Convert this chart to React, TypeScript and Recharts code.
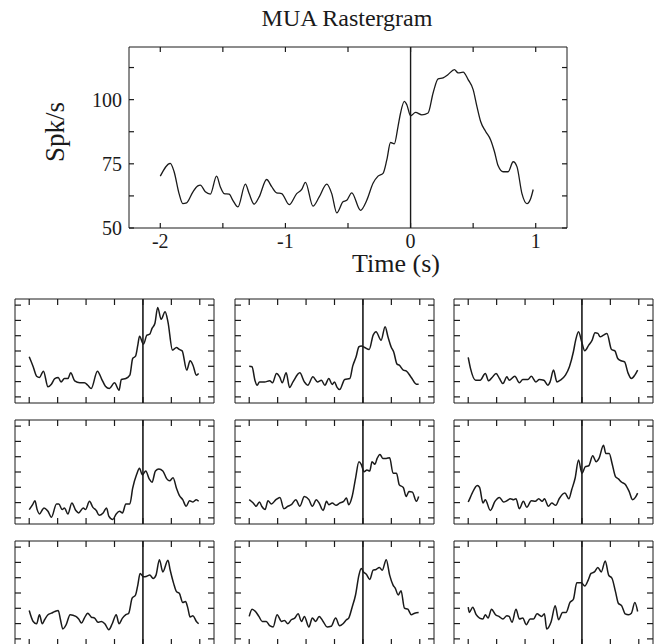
import { LineChart, Line, XAxis, YAxis, ReferenceLine } from "recharts";

// main MUA trace: [time (s), spikes/s]
const mainTrace: [number, number][] = [
  [-2.0, 70.2], [-1.92, 75.2], [-1.89, 72], [-1.85, 63.4], [-1.82, 59.5], [-1.79, 59.8],
  [-1.74, 64], [-1.7, 66.4], [-1.68, 66.7], [-1.64, 64.1], [-1.6, 63.2], [-1.55, 70.2],
  [-1.52, 66], [-1.49, 63.4], [-1.45, 63.2], [-1.42, 60.8], [-1.38, 58.2], [-1.32, 67.1],
  [-1.29, 63.4], [-1.25, 59.3], [-1.21, 62.1], [-1.15, 68.9], [-1.11, 66.1], [-1.07, 63.7],
  [-1.03, 63.4], [-0.97, 59.1], [-0.91, 63.4], [-0.87, 65], [-0.84, 67.8], [-0.78, 58.5],
  [-0.73, 62.1], [-0.67, 67.1], [-0.63, 63.4], [-0.59, 55.9], [-0.54, 60.2], [-0.51, 60.8],
  [-0.47, 63.7], [-0.4, 56.9], [-0.35, 60.8], [-0.3, 67.4], [-0.26, 70.2], [-0.22, 71.3],
  [-0.19, 76.5], [-0.16, 83.3], [-0.13, 82.8], [-0.1, 89.6], [-0.08, 94.8], [-0.05, 99.3],
  [-0.03, 98], [0, 93.7], [0.04, 95], [0.09, 94.1], [0.14, 94.8], [0.18, 102.6], [0.22, 108.1],
  [0.26, 108.5], [0.3, 109.8], [0.35, 111.7], [0.38, 110.4], [0.42, 110.7], [0.46, 107.8],
  [0.5, 103.9], [0.53, 97.4], [0.56, 91.5], [0.6, 87.6], [0.64, 84.3], [0.67, 79.8],
  [0.7, 74.2], [0.74, 71.9], [0.78, 71.9], [0.82, 75.8], [0.85, 73.9], [0.89, 63.4],
  [0.93, 59.5], [0.96, 61.5], [0.98, 65],
];

// small panels, y in tick units (0..6)
const panelA: [number, number][] = [
  [-2.0, 2.62], [-1.93, 1.97], [-1.87, 1.35], [-1.82, 1.27], [-1.75, 1.68], [-1.67, 0.66],
  [-1.61, 0.83], [-1.55, 1.2], [-1.49, 1.27], [-1.44, 0.98], [-1.38, 1.2], [-1.32, 1.2],
  [-1.27, 1.57], [-1.2, 1.05], [-1.11, 0.92], [-1.03, 0.92], [-0.97, 0.76], [-0.91, 0.55],
  [-0.8, 1.68], [-0.73, 1.2], [-0.66, 0.7], [-0.59, 0.55], [-0.5, 0.92], [-0.42, 0.44],
  [-0.38, 1.14], [-0.3, 1.2], [-0.23, 1.42], [-0.18, 2.51], [-0.13, 2.66], [-0.09, 3.38],
  [-0.06, 3.97], [0.01, 3.45], [0.07, 4.04], [0.12, 4.1], [0.16, 4.48], [0.21, 4.8],
  [0.26, 5.85], [0.32, 5.07], [0.39, 5.57], [0.44, 4.91], [0.52, 3.06], [0.59, 3.23],
  [0.64, 3.1], [0.69, 3.01], [0.77, 1.75], [0.83, 2.36], [0.88, 2.07], [0.94, 1.42], [0.98, 1.53],
];
const panelB: [number, number][] = [
  [-2.0, 2.01], [-1.95, 1.97], [-1.9, 1.09], [-1.86, 0.76], [-1.82, 0.98], [-1.73, 0.98],
  [-1.64, 1.05], [-1.59, 0.92], [-1.52, 1.53], [-1.46, 1.27], [-1.42, 0.92], [-1.35, 1.57],
  [-1.29, 0.61], [-1.23, 0.98], [-1.11, 1.57], [-1.03, 0.98], [-0.97, 0.76], [-0.88, 1.31],
  [-0.8, 0.98], [-0.73, 1.09], [-0.67, 0.76], [-0.6, 1.2], [-0.54, 0.81], [-0.5, 0.98],
  [-0.46, 0.66], [-0.41, 0.48], [-0.32, 1.14], [-0.23, 1.2], [-0.18, 2.01], [-0.12, 2.62],
  [-0.07, 3.28], [-0.03, 3.32], [0.03, 3.23], [0.11, 3.1], [0.18, 4.04], [0.23, 4.26],
  [0.32, 3.71], [0.39, 4.59], [0.44, 3.93], [0.5, 3.23], [0.54, 2.95], [0.6, 2.14],
  [0.64, 2.07], [0.71, 1.75], [0.76, 1.7], [0.85, 1.27], [0.94, 0.83], [0.98, 0.83],
];
const panelC: [number, number][] = [
  [-2.0, 2.58], [-1.96, 1.86], [-1.87, 1.09], [-1.79, 1.09], [-1.7, 1.53], [-1.64, 1.05],
  [-1.58, 1.27], [-1.51, 1.53], [-1.45, 1.2], [-1.39, 0.87], [-1.32, 1.31], [-1.28, 1.09],
  [-1.18, 1.35], [-1.1, 0.92], [-1.04, 1.14], [-0.95, 1.14], [-0.89, 1.35], [-0.81, 0.98],
  [-0.75, 1.14], [-0.67, 1.09], [-0.6, 0.76], [-0.56, 0.98], [-0.5, 1.75], [-0.44, 0.98],
  [-0.38, 1.09], [-0.29, 1.42], [-0.22, 1.97], [-0.15, 2.95], [-0.11, 3.71], [-0.06, 4.26],
  [0.0, 3.54], [0.05, 3.01], [0.12, 3.38], [0.18, 3.71], [0.23, 4.19], [0.28, 4.15],
  [0.32, 3.93], [0.38, 4.04], [0.44, 4.15], [0.52, 3.1], [0.58, 3.01], [0.63, 2.51],
  [0.69, 2.36], [0.75, 2.29], [0.81, 1.57], [0.87, 1.2], [0.93, 1.42], [0.98, 1.75],
];
const panelD: [number, number][] = [
  [-2.0, 0.54], [-1.94, 0.86], [-1.9, 1.12], [-1.86, 0.54], [-1.82, 0.26], [-1.74, 0.65],
  [-1.67, 0.43], [-1.61, 0.04], [-1.52, 0.91], [-1.48, 0.91], [-1.42, 0.54], [-1.38, 0.65],
  [-1.32, 0.26], [-1.25, 0.97], [-1.18, 0.48], [-1.13, 0.32], [-1.05, 0.65], [-1.01, 0.54],
  [-0.94, 1.08], [-0.88, 0.69], [-0.82, 0.48], [-0.77, 0.17], [-0.7, 0.32], [-0.64, 0.65],
  [-0.6, 0.11], [-0.53, -0.11], [-0.47, 0.26], [-0.41, 0.43], [-0.36, 0.32], [-0.3, 0.91],
  [-0.23, 0.91], [-0.18, 1.94], [-0.11, 2.85], [-0.06, 3.24], [-0.01, 2.81], [0.05, 3.07],
  [0.11, 2.55], [0.16, 2.33], [0.22, 3.07], [0.28, 3.2], [0.35, 3.07], [0.42, 2.55],
  [0.47, 2.42], [0.53, 2.63], [0.59, 1.94], [0.64, 1.47], [0.7, 1.19], [0.76, 0.76],
  [0.82, 1.12], [0.88, 1.04], [0.94, 1.19], [0.98, 1.08],
];
const panelE: [number, number][] = [
  [-2.0, 1.19], [-1.93, 0.97], [-1.88, 0.76], [-1.82, 1.04], [-1.78, 0.76], [-1.72, 0.54],
  [-1.67, 1.12], [-1.61, 0.91], [-1.53, 1.19], [-1.46, 1.34], [-1.39, 0.6], [-1.32, 0.76],
  [-1.26, 0.86], [-1.18, 1.19], [-1.11, 0.76], [-1.03, 1.4], [-0.95, 1.19], [-0.89, 0.76],
  [-0.82, 1.19], [-0.77, 0.97], [-0.7, 0.48], [-0.64, 1.08], [-0.6, 0.86], [-0.54, 0.97],
  [-0.47, 0.82], [-0.41, 0.97], [-0.34, 1.08], [-0.29, 1.3], [-0.25, 0.86], [-0.19, 1.4],
  [-0.13, 2.59], [-0.07, 3.67], [-0.03, 3.5], [0.02, 3.02], [0.07, 3.13], [0.12, 3.07],
  [0.16, 3.67], [0.21, 3.5], [0.25, 3.89], [0.3, 4.15], [0.35, 3.89], [0.41, 3.89],
  [0.47, 3.93], [0.53, 2.92], [0.59, 2.92], [0.64, 2.16], [0.71, 1.99], [0.76, 1.4],
  [0.81, 1.73], [0.87, 1.68], [0.94, 1.08], [0.98, 1.4],
];
const panelF: [number, number][] = [
  [-2.0, 1.04], [-1.98, 1.19], [-1.93, 1.62], [-1.84, 2.12], [-1.8, 1.99], [-1.74, 0.97],
  [-1.7, 1.19], [-1.61, 0.48], [-1.53, 1.08], [-1.45, 1.34], [-1.38, 1.04], [-1.32, 1.12],
  [-1.26, 1.25], [-1.2, 1.19], [-1.16, 1.25], [-1.1, 0.6], [-1.03, 1.08], [-0.97, 0.69],
  [-0.89, 1.12], [-0.82, 1.08], [-0.76, 1.25], [-0.7, 1.08], [-0.66, 1.25], [-0.59, 0.76],
  [-0.53, 0.97], [-0.46, 0.82], [-0.4, 1.25], [-0.3, 1.62], [-0.23, 1.25], [-0.18, 1.84],
  [-0.12, 2.59], [-0.06, 3.78], [0.0, 2.92], [0.06, 3.35], [0.12, 3.41], [0.19, 4.06],
  [0.25, 3.67], [0.3, 3.89], [0.38, 4.75], [0.42, 4.21], [0.48, 4.21], [0.53, 3.56],
  [0.59, 2.7], [0.64, 2.55], [0.7, 2.33], [0.76, 2.2], [0.83, 1.73], [0.89, 1.19],
  [0.94, 1.34], [0.98, 1.62],
];
const panelG: [number, number][] = [
  [-2.0, 1.86], [-1.93, 1.14], [-1.87, 0.99], [-1.82, 1.58], [-1.77, 0.99], [-1.73, 1.25],
  [-1.67, 1.58], [-1.61, 1.68], [-1.55, 1.79], [-1.49, 1.86], [-1.45, 1.25], [-1.41, 0.65],
  [-1.35, 0.93], [-1.28, 1.58], [-1.18, 1.47], [-1.13, 1.3], [-1.08, 1.04], [-1.03, 1.36],
  [-0.97, 1.68], [-0.91, 1.43], [-0.85, 1.36], [-0.79, 1.08], [-0.73, 1.14], [-0.67, 0.99],
  [-0.6, 0.6], [-0.54, 0.99], [-0.47, 1.58], [-0.42, 0.99], [-0.36, 1.36], [-0.3, 1.58],
  [-0.25, 1.68], [-0.19, 2.66], [-0.13, 2.87], [-0.09, 3.52], [-0.05, 4.28], [0.01, 4.06],
  [0.07, 4.1], [0.12, 4.17], [0.18, 3.95], [0.23, 4.17], [0.29, 5.18], [0.35, 4.38],
  [0.44, 5.14], [0.48, 4.49], [0.54, 3.63], [0.59, 3.09], [0.64, 2.98], [0.7, 2.38],
  [0.75, 2.44], [0.79, 2.01], [0.83, 1.43], [0.88, 1.51], [0.94, 1.14], [0.98, 0.99],
];
const panelH: [number, number][] = [
  [-2.0, 1.47], [-1.95, 1.94], [-1.89, 1.79], [-1.83, 1.47], [-1.77, 1.14], [-1.7, 1.14],
  [-1.64, 0.86], [-1.58, 0.78], [-1.51, 1.58], [-1.43, 1.14], [-1.38, 1.21], [-1.32, 0.99],
  [-1.26, 1.25], [-1.2, 1.36], [-1.14, 1.64], [-1.08, 1.14], [-1.03, 1.47], [-0.95, 0.78],
  [-0.89, 1.36], [-0.83, 1.14], [-0.77, 1.47], [-0.7, 1.14], [-0.63, 0.78], [-0.56, 0.82],
  [-0.48, 1.36], [-0.41, 0.86], [-0.35, 0.99], [-0.29, 1.25], [-0.25, 1.36], [-0.19, 2.07],
  [-0.13, 2.87], [-0.07, 4.17], [-0.03, 4.6], [0.01, 4.38], [0.06, 4.23], [0.12, 3.89],
  [0.18, 4.49], [0.23, 4.54], [0.29, 4.67], [0.34, 4.49], [0.41, 5.18], [0.47, 4.17],
  [0.53, 3.52], [0.57, 3.3], [0.62, 2.87], [0.67, 3.15], [0.73, 2.01], [0.79, 1.94],
  [0.85, 1.58], [0.91, 1.68], [0.98, 1.73],
];
const panelI: [number, number][] = [
  [-2.0, 2.07], [-1.98, 1.73], [-1.92, 2.07], [-1.86, 1.58], [-1.8, 1.36], [-1.74, 1.3],
  [-1.7, 1.58], [-1.65, 1.36], [-1.59, 1.94], [-1.52, 1.58], [-1.46, 1.47], [-1.39, 1.3],
  [-1.32, 1.51], [-1.28, 1.47], [-1.23, 1.08], [-1.16, 1.94], [-1.1, 1.3], [-1.04, 1.36],
  [-0.98, 0.93], [-0.91, 1.3], [-0.85, 1.3], [-0.79, 1.64], [-0.71, 1.47], [-0.66, 1.64],
  [-0.62, 0.65], [-0.54, 1.14], [-0.47, 2.16], [-0.41, 1.25], [-0.34, 1.73], [-0.28, 1.73],
  [-0.21, 2.38], [-0.15, 2.59], [-0.09, 3.67], [-0.01, 3.67], [0.05, 3.46], [0.11, 3.84],
  [0.16, 4.28], [0.22, 4.38], [0.28, 4.67], [0.34, 4.38], [0.41, 5.1], [0.47, 4.17],
  [0.53, 3.95], [0.59, 3.09], [0.64, 2.33], [0.7, 2.16], [0.76, 1.64], [0.82, 1.58],
  [0.87, 1.68], [0.93, 2.38], [0.98, 1.79],
];

const timeTicks = [-2, -1.5, -1, -0.5, 0, 0.5, 1];
const rateTicks = [50, 62.5, 75, 87.5, 100, 112.5];
const panelTicks = [0, 1, 2, 3, 4, 5, 6];

const panelRows = [
  [panelA, panelB, panelC],
  [panelD, panelE, panelF],
  [panelG, panelH, panelI],
];

const FONT = "'Liberation Serif', 'Times New Roman', serif";
const INK = "#1a1a1a";

const toRows = (pts: [number, number][]) => pts.map(([t, v]) => ({ t, v }));

// ticks drawn pointing into the plot
function tickFor(side: "bottom" | "top" | "left" | "right", len: number, label?: (v: number) => string | null) {
  return (p: any) => {
    const { x, y, payload } = p;
    const txt = label ? label(payload.value) : null;
    let x2 = x, y2 = y;
    if (side === "bottom") y2 = y - len;
    if (side === "top") y2 = y + len;
    if (side === "left") x2 = x + len;
    if (side === "right") x2 = x - len;
    return (
      <g>
        <line x1={x} y1={y} x2={x2} y2={y2} stroke={INK} strokeWidth={1.2} />
        {txt !== null && side === "bottom" && (
          <text x={x} y={y + 20} textAnchor="middle" fontFamily={FONT} fontSize={20} fill={INK}>{txt}</text>
        )}
        {txt !== null && side === "left" && (
          <text x={x - 7} y={y + 7} textAnchor="end" fontFamily={FONT} fontSize={20} fill={INK}>{txt}</text>
        )}
      </g>
    );
  };
}

const xLabel = (v: number) => (Number.isInteger(v) ? String(v) : null);
const yLabel = (v: number) => (v % 25 === 0 ? String(v) : null);

function MainChart() {
  return (
    <LineChart width={661} height={290} data={toRows(mainTrace)} margin={{ top: 46, left: 128, right: 93, bottom: 61 }}>
      <XAxis dataKey="t" type="number" domain={[-2.25, 1.25]} allowDataOverflow ticks={timeTicks} interval={0}
        height={1} tickSize={0} tickMargin={0} tickLine={false} axisLine={{ stroke: INK }} tick={tickFor("bottom", 5, xLabel)} />
      <XAxis xAxisId="top" dataKey="t" orientation="top" type="number" domain={[-2.25, 1.25]} allowDataOverflow ticks={timeTicks} interval={0}
        height={1} tickSize={0} tickMargin={0} tickLine={false} axisLine={{ stroke: INK }} tick={tickFor("top", 5)} />
      <YAxis type="number" domain={[50, 120.5]} allowDataOverflow ticks={rateTicks} interval={0}
        width={1} tickSize={0} tickMargin={0} tickLine={false} axisLine={{ stroke: INK }} tick={tickFor("left", 5, yLabel)} />
      <YAxis yAxisId="right" dataKey="v" orientation="right" type="number" domain={[50, 120.5]} allowDataOverflow ticks={rateTicks} interval={0}
        width={1} tickSize={0} tickMargin={0} tickLine={false} axisLine={{ stroke: INK }} tick={tickFor("right", 5)} />
      <ReferenceLine x={0} stroke={INK} strokeWidth={1.4} />
      <Line dataKey="v" type="monotone" stroke={INK} strokeWidth={1.3} dot={false} isAnimationActive={false} />
    </LineChart>
  );
}

function SmallPanel({ pts }: { pts: [number, number][] }) {
  return (
    <LineChart width={201} height={106} data={toRows(pts)} margin={{ top: 0, left: 0, right: 0, bottom: 0 }}>
      <XAxis dataKey="t" type="number" domain={[-2.25, 1.25]} allowDataOverflow ticks={timeTicks} interval={0}
        height={1} tickSize={0} tickMargin={0} tickLine={false} axisLine={{ stroke: INK }} tick={tickFor("bottom", 6)} />
      <XAxis xAxisId="top" dataKey="t" orientation="top" type="number" domain={[-2.25, 1.25]} allowDataOverflow ticks={timeTicks} interval={0}
        height={1} tickSize={0} tickMargin={0} tickLine={false} axisLine={{ stroke: INK }} tick={tickFor("top", 6)} />
      <YAxis type="number" domain={[-0.4, 6.4]} allowDataOverflow ticks={panelTicks} interval={0}
        width={1} tickSize={0} tickMargin={0} tickLine={false} axisLine={{ stroke: INK }} tick={tickFor("left", 6)} />
      <YAxis yAxisId="right" dataKey="v" orientation="right" type="number" domain={[-0.4, 6.4]} allowDataOverflow ticks={panelTicks} interval={0}
        width={1} tickSize={0} tickMargin={0} tickLine={false} axisLine={{ stroke: INK }} tick={tickFor("right", 6)} />
      <ReferenceLine x={0} stroke={INK} strokeWidth={1.6} />
      <Line dataKey="v" type="monotone" stroke={INK} strokeWidth={1.5} dot={false} isAnimationActive={false} />
    </LineChart>
  );
}

const colLeft = [14, 234, 453];
const rowTop = [298, 419, 540];

export default function App() {
  return (
    <div style={{ position: "absolute", left: 0, top: 0, width: 661, height: 644, background: "#fff", overflow: "hidden" }}>
      <div style={{ position: "absolute", left: 0, top: 0 }}>
        <MainChart />
      </div>
      {panelRows.map((row, r) =>
        row.map((pts, c) => (
          <div key={`${r}-${c}`} style={{ position: "absolute", left: colLeft[c], top: rowTop[r] }}>
            <SmallPanel pts={pts} />
          </div>
        ))
      )}
      <svg width={661} height={644} style={{ position: "absolute", left: 0, top: 0, pointerEvents: "none" }}>
        <text x={347} y={26} textAnchor="middle" fontFamily={FONT} fontSize={24} fill={INK}>MUA Rastergram</text>
        <text x={64} y={132} textAnchor="middle" fontFamily={FONT} fontSize={27} fill={INK} transform="rotate(-90 64 132)">Spk/s</text>
        <text x={396} y={272} textAnchor="middle" fontFamily={FONT} fontSize={26} fill={INK}>Time (s)</text>
      </svg>
    </div>
  );
}
